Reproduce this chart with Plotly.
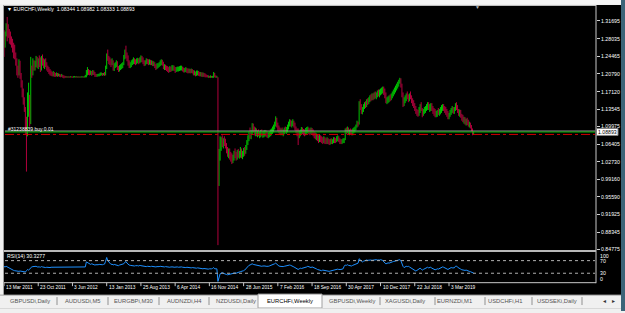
import pandas as pd
import plotly.graph_objects as go

# ---------------- DATA ----------------
symbol_title = "\u25bc EURCHFi,Weekly  1.08344 1.08982 1.08333 1.08893"
first_open = 1.292

close = [
 1.272,1.290,1.305,1.300,1.288,1.285,1.275,1.270,1.262,1.255,
 1.245,1.232,1.212,1.208,1.230,1.205,1.185,1.168,1.155,1.135,
 1.095,1.090,1.140,1.160,1.115,1.215,1.212,1.228,1.222,1.228,
 1.238,1.225,1.232,1.230,1.218,1.240,1.235,1.232,1.235,1.228,
 1.220,1.218,1.212,1.210,1.208,1.206,1.209,1.206,1.205,1.208,
 1.206,1.207,1.205,1.204,1.205,1.203,1.202,1.2012,1.2015,1.2010,
 1.2013,1.2011,1.2016,1.2012,1.2010,1.2014,1.2018,1.2012,1.2015,1.2011,
 1.2013,1.2010,1.2012,1.2015,1.2011,1.2014,1.2030,1.210,1.214,1.212,
 1.210,1.212,1.209,1.213,1.210,1.205,1.204,1.205,1.205,1.206,
 1.208,1.208,1.207,1.208,1.207,1.220,1.245,1.240,1.238,1.233,
 1.230,1.234,1.218,1.225,1.228,1.232,1.220,1.215,1.220,1.224,
 1.225,1.228,1.242,1.254,1.245,1.238,1.230,1.225,1.228,1.232,
 1.234,1.238,1.235,1.232,1.236,1.237,1.235,1.238,1.242,1.240,
 1.232,1.230,1.232,1.236,1.235,1.232,1.234,1.232,1.232,1.230,
 1.230,1.225,1.222,1.226,1.226,1.228,1.232,1.234,1.232,1.222,
 1.224,1.222,1.220,1.218,1.215,1.219,1.218,1.221,1.222,1.220,
 1.216,1.218,1.219,1.219,1.220,1.220,1.221,1.218,1.216,1.216,
 1.218,1.215,1.214,1.215,1.214,1.215,1.214,1.210,1.210,1.206,
 1.211,1.211,1.209,1.207,1.208,1.206,1.207,1.206,1.205,1.203,
 1.202,1.202,1.201,1.202,1.201,1.201,1.208,1.203,1.201,1.201,
 1.024,1.040,1.055,1.070,1.065,1.072,1.068,1.060,1.050,1.045,
 1.048,1.038,1.035,1.030,1.038,1.045,1.040,1.038,1.046,1.042,
 1.044,1.050,1.040,1.045,1.050,1.048,1.058,1.068,1.078,1.086,
 1.082,1.088,1.102,1.094,1.090,1.092,1.085,1.088,1.084,1.086,
 1.088,1.083,1.084,1.086,1.087,1.085,1.082,1.084,1.086,1.088,
 1.092,1.095,1.100,1.104,1.115,1.106,1.096,1.092,1.090,1.092,
 1.088,1.090,1.094,1.092,1.094,1.100,1.106,1.110,1.106,1.108,
 1.110,1.104,1.096,1.092,1.086,1.080,1.086,1.092,1.094,1.090,
 1.088,1.086,1.092,1.094,1.096,1.090,1.088,1.094,1.090,1.085,
 1.082,1.078,1.080,1.076,1.072,1.078,1.074,1.072,1.070,1.074,
 1.070,1.068,1.072,1.068,1.066,1.070,1.068,1.070,1.074,1.072,
 1.070,1.076,1.078,1.074,1.070,1.068,1.070,1.072,1.072,1.092,
 1.090,1.096,1.088,1.090,1.088,1.086,1.092,1.094,1.096,1.100,
 1.106,1.104,1.146,1.140,1.132,1.134,1.142,1.146,1.144,1.152,
 1.150,1.156,1.160,1.158,1.164,1.162,1.166,1.164,1.168,1.170,
 1.168,1.172,1.174,1.176,1.178,1.170,1.162,1.152,1.155,1.158,
 1.160,1.158,1.164,1.168,1.172,1.176,1.180,1.184,1.188,1.192,
 1.196,1.184,1.165,1.148,1.155,1.160,1.164,1.160,1.158,1.164,
 1.160,1.152,1.148,1.142,1.136,1.130,1.128,1.126,1.134,1.140,
 1.136,1.126,1.132,1.136,1.138,1.142,1.146,1.140,1.142,1.144,
 1.138,1.132,1.128,1.124,1.126,1.130,1.128,1.132,1.136,1.140,
 1.142,1.138,1.134,1.130,1.126,1.120,1.124,1.130,1.134,1.138,
 1.132,1.136,1.144,1.140,1.132,1.128,1.130,1.122,1.118,1.114,
 1.116,1.110,1.112,1.108,1.104,1.106,1.100,1.094,1.0834,1.08893,
]

high = [
 1.298,1.295,1.312,1.325,1.310,1.300,1.295,1.285,1.280,1.272,
 1.268,1.252,1.240,1.225,1.238,1.235,1.210,1.195,1.178,1.160,
 1.140,1.120,1.170,1.190,1.165,1.243,1.225,1.240,1.236,1.235,
 1.245,1.243,1.240,1.246,1.242,1.245,1.248,1.240,1.238,1.240,
 1.232,1.225,1.222,1.218,1.215,1.212,1.214,1.212,1.210,1.211,
 1.210,1.209,1.208,1.207,1.208,1.206,1.205,1.204,1.2035,1.2030,
 1.2030,1.2028,1.2035,1.2030,1.2026,1.2032,1.2036,1.2030,1.2033,1.2028,
 1.2030,1.2026,1.2030,1.2034,1.2028,1.2035,1.2060,1.216,1.222,1.218,
 1.216,1.215,1.214,1.216,1.215,1.212,1.208,1.208,1.208,1.209,
 1.211,1.211,1.210,1.210,1.212,1.225,1.250,1.258,1.245,1.242,
 1.238,1.240,1.236,1.230,1.232,1.236,1.234,1.224,1.226,1.228,
 1.230,1.232,1.247,1.258,1.266,1.252,1.246,1.236,1.232,1.236,
 1.238,1.242,1.240,1.238,1.240,1.241,1.240,1.242,1.246,1.245,
 1.242,1.236,1.236,1.240,1.239,1.238,1.238,1.237,1.236,1.235,
 1.234,1.232,1.228,1.230,1.230,1.232,1.236,1.238,1.237,1.233,
 1.228,1.227,1.225,1.224,1.222,1.224,1.223,1.226,1.226,1.225,
 1.222,1.222,1.223,1.223,1.224,1.225,1.225,1.223,1.221,1.220,
 1.222,1.220,1.219,1.219,1.218,1.219,1.218,1.216,1.215,1.213,
 1.215,1.215,1.214,1.212,1.212,1.211,1.211,1.210,1.209,1.207,
 1.206,1.205,1.204,1.205,1.204,1.204,1.212,1.210,1.205,1.204,
 1.2012,1.054,1.080,1.078,1.082,1.076,1.080,1.075,1.066,1.058,
 1.055,1.055,1.048,1.045,1.042,1.050,1.055,1.048,1.052,1.054,
 1.050,1.058,1.055,1.050,1.056,1.058,1.062,1.072,1.082,1.090,
 1.098,1.092,1.107,1.106,1.100,1.098,1.096,1.092,1.094,1.090,
 1.093,1.094,1.090,1.092,1.093,1.092,1.090,1.088,1.090,1.094,
 1.096,1.100,1.104,1.110,1.121,1.118,1.108,1.102,1.098,1.096,
 1.098,1.094,1.098,1.100,1.099,1.104,1.110,1.115,1.114,1.112,
 1.115,1.112,1.108,1.100,1.096,1.096,1.092,1.094,1.099,1.098,
 1.095,1.094,1.097,1.099,1.100,1.098,1.096,1.098,1.097,1.094,
 1.090,1.088,1.086,1.084,1.082,1.084,1.082,1.080,1.078,1.080,
 1.078,1.076,1.078,1.076,1.074,1.075,1.076,1.074,1.078,1.078,
 1.076,1.080,1.082,1.080,1.076,1.074,1.074,1.076,1.076,1.096,
 1.098,1.100,1.098,1.094,1.096,1.094,1.096,1.098,1.100,1.104,
 1.112,1.110,1.152,1.156,1.146,1.140,1.146,1.150,1.152,1.156,
 1.158,1.160,1.164,1.166,1.168,1.168,1.170,1.172,1.170,1.174,
 1.176,1.176,1.178,1.180,1.182,1.182,1.178,1.170,1.160,1.162,
 1.164,1.166,1.168,1.172,1.176,1.180,1.184,1.188,1.192,1.196,
 1.200,1.199,1.188,1.170,1.160,1.164,1.168,1.172,1.166,1.168,
 1.172,1.164,1.158,1.154,1.148,1.142,1.136,1.134,1.140,1.146,
 1.150,1.138,1.136,1.140,1.142,1.146,1.150,1.150,1.146,1.148,
 1.148,1.142,1.138,1.136,1.132,1.134,1.138,1.136,1.140,1.144,
 1.146,1.146,1.142,1.140,1.136,1.132,1.128,1.134,1.138,1.142,
 1.140,1.140,1.148,1.150,1.144,1.136,1.135,1.134,1.126,1.124,
 1.120,1.119,1.116,1.118,1.114,1.110,1.108,1.103,1.096,1.08982,
]

low = [
 1.243,1.262,1.285,1.275,1.282,1.270,1.268,1.262,1.252,1.240,
 1.238,1.225,1.205,1.200,1.205,1.198,1.180,1.160,1.145,1.130,
 1.085,1.0075,1.080,1.120,1.100,1.105,1.200,1.205,1.215,1.215,
 1.222,1.220,1.218,1.222,1.212,1.215,1.225,1.220,1.218,1.222,
 1.215,1.212,1.208,1.205,1.204,1.203,1.203,1.202,1.202,1.203,
 1.202,1.203,1.202,1.201,1.202,1.200,1.199,1.2000,1.2004,1.2004,
 1.2005,1.2004,1.2006,1.2005,1.2004,1.2005,1.2007,1.2005,1.2006,1.2004,
 1.2005,1.2004,1.2005,1.2006,1.2004,1.2005,1.2008,1.201,1.205,1.206,
 1.205,1.206,1.204,1.206,1.206,1.202,1.202,1.202,1.203,1.203,
 1.204,1.205,1.204,1.205,1.204,1.205,1.218,1.235,1.228,1.226,
 1.222,1.226,1.215,1.214,1.220,1.222,1.216,1.212,1.213,1.216,
 1.218,1.220,1.226,1.238,1.240,1.234,1.225,1.220,1.220,1.222,
 1.226,1.228,1.228,1.226,1.228,1.230,1.228,1.230,1.232,1.232,
 1.228,1.224,1.225,1.228,1.228,1.226,1.227,1.226,1.226,1.224,
 1.224,1.220,1.216,1.218,1.220,1.222,1.224,1.226,1.225,1.218,
 1.216,1.216,1.214,1.212,1.210,1.212,1.212,1.214,1.215,1.214,
 1.210,1.212,1.213,1.213,1.214,1.215,1.215,1.213,1.211,1.211,
 1.212,1.210,1.209,1.210,1.209,1.210,1.209,1.205,1.205,1.203,
 1.204,1.205,1.204,1.203,1.203,1.202,1.202,1.202,1.201,1.201,
 1.201,1.200,1.200,1.200,1.200,1.200,1.200,1.201,1.200,1.200,
 0.8565,0.978,1.030,1.050,1.058,1.055,1.060,1.055,1.045,1.038,
 1.035,1.032,1.028,1.023,1.025,1.030,1.035,1.030,1.032,1.036,
 1.034,1.036,1.035,1.033,1.038,1.040,1.044,1.052,1.062,1.070,
 1.075,1.074,1.084,1.088,1.082,1.080,1.080,1.078,1.080,1.076,
 1.078,1.080,1.077,1.078,1.080,1.079,1.077,1.076,1.078,1.080,
 1.082,1.085,1.088,1.094,1.100,1.098,1.090,1.086,1.084,1.082,
 1.084,1.080,1.084,1.086,1.085,1.088,1.094,1.100,1.100,1.098,
 1.101,1.098,1.092,1.086,1.080,1.062,1.076,1.080,1.085,1.084,
 1.082,1.080,1.082,1.085,1.086,1.084,1.082,1.084,1.083,1.080,
 1.076,1.074,1.072,1.070,1.066,1.068,1.068,1.066,1.064,1.066,
 1.064,1.064,1.064,1.064,1.062,1.063,1.064,1.064,1.066,1.066,
 1.066,1.068,1.070,1.068,1.064,1.064,1.064,1.066,1.066,1.072,
 1.084,1.086,1.084,1.082,1.084,1.082,1.082,1.086,1.088,1.092,
 1.098,1.100,1.104,1.134,1.126,1.125,1.130,1.136,1.138,1.140,
 1.144,1.146,1.150,1.152,1.154,1.154,1.156,1.158,1.156,1.160,
 1.162,1.160,1.164,1.166,1.168,1.165,1.158,1.148,1.146,1.148,
 1.150,1.152,1.154,1.158,1.162,1.166,1.170,1.174,1.178,1.182,
 1.188,1.180,1.160,1.140,1.142,1.148,1.152,1.156,1.150,1.152,
 1.156,1.148,1.142,1.138,1.132,1.126,1.122,1.120,1.122,1.128,
 1.132,1.119,1.122,1.126,1.128,1.132,1.134,1.134,1.130,1.132,
 1.132,1.126,1.122,1.119,1.119,1.120,1.124,1.122,1.125,1.128,
 1.132,1.132,1.128,1.124,1.120,1.115,1.115,1.120,1.124,1.128,
 1.126,1.126,1.132,1.134,1.128,1.122,1.120,1.118,1.112,1.109,
 1.106,1.104,1.102,1.103,1.100,1.098,1.096,1.090,1.082,1.08333,
]

rsi = [
 51,50,52,50,47,45,44,42,40,39,38,37,36,35,36,37,36,35,34,35,
 34,38,42,40,44,48,50,51,52,51,52,50,51,50,49,51,50,49,49,48,
 49,48,49,48,49,49,48,49,49,48,49,49,48,49,48,49,48,48,49,48,
 49,48,49,48,48,49,48,49,48,49,48,49,48,49,48,49,50,66,64,60,
 59,58,60,58,57,56,57,56,57,58,57,58,57,58,59,68,80,70,65,60,
 58,59,56,58,57,58,55,54,56,57,58,59,60,65,67,62,58,56,55,54,
 55,54,53,54,55,54,53,55,54,53,52,53,52,51,52,51,52,51,52,51,
 50,51,50,51,50,51,52,51,50,49,50,51,50,49,50,49,50,51,50,49,
 50,49,50,49,50,49,50,49,48,49,48,49,48,47,48,47,48,47,46,47,
 46,47,46,45,46,45,44,45,44,43,44,43,44,43,44,45,48,44,43,44,
 4,22,28,30,32,30,28,27,26,25,26,25,27,28,29,30,31,30,32,33,
 34,35,36,35,38,40,44,48,52,55,56,58,60,58,57,56,55,54,53,54,
 53,52,53,54,53,52,51,52,53,54,55,56,58,60,62,58,55,53,52,51,
 52,51,52,53,52,54,55,56,55,54,52,50,48,46,44,42,44,46,45,46,
 47,46,48,50,52,51,49,48,50,49,47,45,44,42,41,40,39,38,40,39,
 38,37,38,37,36,37,38,37,38,40,41,42,43,42,41,42,43,44,52,56,
 55,57,55,54,55,53,55,56,57,59,61,62,76,73,68,66,68,70,71,72,
 71,72,73,72,71,72,73,72,73,72,71,72,73,72,71,66,62,60,61,63,
 62,64,65,66,67,68,69,70,71,72,73,70,60,52,48,50,52,51,52,50,
 48,45,42,40,38,37,39,42,45,46,43,40,42,44,46,48,49,47,48,49,
 46,44,42,41,42,44,43,45,47,49,50,49,47,45,43,42,44,46,48,47,
 48,47,52,53,49,46,45,43,41,40,41,39,40,38,37,36,35,33,31,30.33,
]

price_ticks = [1.31695, 1.28035, 1.24465, 1.20790, 1.17120, 1.13545, 1.09975,
               1.06405, 1.02730, 0.99160, 0.95590, 0.91925, 0.88345, 0.84775]
price_tick_text = ["1.31695", "1.28035", "1.24465", "1.20790", "1.17120", "1.13545",
                   "1.09975", "1.06405", "1.02730", "0.99160", "0.95590", "0.91925",
                   "0.88345", "0.84775"]
date_ticks = ["2011-03-13", "2011-10-23", "2012-06-03", "2013-01-13", "2013-08-25",
              "2014-04-06", "2014-11-16", "2015-06-28", "2016-02-07", "2016-09-18",
              "2017-04-30", "2017-12-10", "2018-07-22", "2019-03-03"]
date_tick_text = ["13 Mar 2011", "23 Oct 2011", "3 Jun 2012", "13 Jan 2013", "25 Aug 2013",
                  "6 Apr 2014", "16 Nov 2014", "28 Jun 2015", "7 Feb 2016", "18 Sep 2016",
                  "30 Apr 2017", "10 Dec 2017", "22 Jul 2018", "3 Mar 2019"]
rsi_levels = [70, 30]
rsi_label = "RSI(14) 30.3277"
bid_price = 1.08893
order_line_price = 1.0887
bid_line_price = 1.0907
sl_line_price = 1.0838
order_label = "#31238839 buy 0.01"
tabs = ["GBPUSDi,Daily", "AUDUSDi,M5", "EURGBPi,M30", "AUDNZDi,H4", "NZDUSDi,Daily",
        "EURCHFi,Weekly", "GBPUSDi,Weekly", "XAGUSDi,Daily", "EURNZDi,M1",
        "USDCHFi,H1", "USDSEKi,Daily"]
active_tab = "EURCHFi,Weekly"

# ---------------- LAYOUT HELPERS ----------------
W, H = 625, 313
FONT = "Liberation Sans"
def px(x): return x / W
def py(y): return 1 - y / H

n = min(len(close), len(high), len(low))
dates = pd.date_range("2011-03-13", periods=n, freq="7D")
opens = [first_open] + close[:n - 1]

up_x, up_y, dn_x, dn_y = [], [], [], []
for i in range(n):
    o, c = opens[i], close[i]
    lo = min(low[i], o, c)
    hi = max(high[i], o, c)
    if c >= o:
        up_x += [dates[i], dates[i], None]; up_y += [lo, hi, None]
    else:
        dn_x += [dates[i], dates[i], None]; dn_y += [lo, hi, None]

fig = go.Figure()
fig.add_trace(go.Scatter(x=up_x, y=up_y, mode="lines", line=dict(color="#00c400", width=1),
                         hoverinfo="skip", showlegend=False, xaxis="x", yaxis="y"))
fig.add_trace(go.Scatter(x=dn_x, y=dn_y, mode="lines", line=dict(color="#b0003c", width=1),
                         hoverinfo="skip", showlegend=False, xaxis="x", yaxis="y"))
fig.add_trace(go.Scatter(x=dates[:len(rsi)], y=rsi[:n], mode="lines",
                         line=dict(color="#1e90ff", width=1),
                         hoverinfo="skip", showlegend=False, xaxis="x", yaxis="y2"))

# x mapping: bar of 13 Mar 2011 at px 4, 1.0697 px per week
start = pd.Timestamp("2011-03-13")
ppw = 1.0697
x_left, x_right = 4, 596
xr0 = start + pd.Timedelta(days=(x_left - 4) * 7 / ppw)
xr1 = start + pd.Timedelta(days=(x_right - 4) * 7 / ppw)

# y mapping: 1.31695 at px 21, 0.84775 at px 251
ppp = (1.31695 - 0.84775) / (251 - 21)
main_top, main_bot = 5, 252
yr1 = 1.31695 + (21 - main_top) * ppp
yr0 = 0.84775 - (main_bot - 251) * ppp
rsi_top, rsi_bot = 252.8, 284.5

fig.update_layout(
    width=W, height=H, margin=dict(l=0, r=0, t=0, b=0),
    paper_bgcolor="#f0f0f0", plot_bgcolor="rgba(0,0,0,0)",
    font=dict(family=FONT, size=5, color="white"),
    xaxis=dict(domain=[px(x_left), px(x_right)], range=[xr0, xr1], type="date",
               showgrid=False, zeroline=False, showticklabels=False, ticks="",
               showline=False, anchor="y2", fixedrange=True),
    yaxis=dict(domain=[py(main_bot), py(main_top)], range=[yr0, yr1], side="right",
               anchor="x", showgrid=False, zeroline=False, tickmode="array",
               tickvals=price_ticks, ticktext=price_tick_text, ticks="outside",
               ticklen=3, tickcolor="#d0d0d0", tickwidth=1,
               tickfont=dict(family=FONT, size=5.2, color="white"), showline=False),
    yaxis2=dict(domain=[py(rsi_bot), py(rsi_top)], range=[0, 100], side="right",
                anchor="x", showgrid=False, zeroline=False, showticklabels=False,
                ticks="", showline=False),
    showlegend=False,
)

shapes = []
# black chart window
shapes.append(dict(type="rect", xref="paper", yref="paper", x0=px(4), x1=px(621),
                   y0=py(297), y1=py(5), fillcolor="black", line=dict(width=0), layer="below"))
gray = "#c8c8c8"
def hline(y, x0, x1, color=gray, width=1, dash="solid"):
    shapes.append(dict(type="line", xref="paper", yref="paper", x0=px(x0), x1=px(x1),
                       y0=py(y), y1=py(y), line=dict(color=color, width=width, dash=dash)))
def vline(x, y0, y1, color=gray, width=1):
    shapes.append(dict(type="line", xref="paper", yref="paper", x0=px(x), x1=px(x),
                       y0=py(y0), y1=py(y1), line=dict(color=color, width=width)))
hline(5.5, 4, 596)
vline(596, 5, 285)
vline(3.5, 5, 297, color="#a0a0a0")
hline(252.5, 4, 596, color="#b8b8b8", width=2)
hline(284.5, 4, 596)
for lv in rsi_levels:
    shapes.append(dict(type="line", xref="paper", yref="y2", x0=px(5), x1=px(595),
                       y0=lv, y1=lv, line=dict(color="#b0b0b0", width=1, dash="dot")))
for pr, col, dash in [(bid_line_price, "#a8a8a8", "solid"),
                      (order_line_price, "#00b000", "solid"),
                      (sl_line_price, "#d00000", "dashdot")]:
    shapes.append(dict(type="line", xref="paper", yref="y", x0=px(5), x1=px(595),
                       y0=pr, y1=pr, line=dict(color=col, width=1, dash=dash)))
for d in date_ticks:
    shapes.append(dict(type="line", xref="x", yref="paper", x0=d, x1=d,
                       y0=py(288), y1=py(284.5), line=dict(color="#c8c8c8", width=1)))
shapes.append(dict(type="rect", xref="paper", yref="y", x0=px(596.5), x1=px(618),
                   y0=bid_price - 3.5 * ppp, y1=bid_price + 3.5 * ppp,
                   fillcolor="white", line=dict(color="#808080", width=1)))
shapes.append(dict(type="rect", xref="paper", yref="paper", x0=0, x1=1, y0=py(313), y1=py(297),
                   fillcolor="#f0f0f0", line=dict(width=0), layer="below"))
hline(297, 0, 622, color="#a0a0a0")
shapes.append(dict(type="rect", xref="paper", yref="paper", x0=px(258), x1=px(322),
                   y0=py(310), y1=py(296), fillcolor="white", line=dict(color="#a0a0a0", width=1)))
hline(310.5, 0, 625, color="#d8d8d8")
shapes.append(dict(type="rect", xref="paper", yref="paper", x0=px(621), x1=1, y0=0, y1=1,
                   fillcolor="#3c6478", line=dict(width=0)))
shapes.append(dict(type="rect", xref="paper", yref="paper", x0=0, x1=px(621), y0=py(4), y1=1,
                   fillcolor="#f4f4f4", line=dict(width=0)))
tab_centers = [30, 82, 133, 184, 236, 290, 352, 405, 454, 505, 557]
seps = [57, 108, 159, 209, 380, 435, 485, 532, 582]
for sx in seps:
    vline(sx, 299, 307, color="#909090")
fig.update_layout(shapes=shapes)

ann = []
def text(x, y, s, size=5, color="white", anchor="left", xref="paper"):
    ann.append(dict(x=x if xref != "paper" else px(x), y=py(y), xref=xref, yref="paper",
                    text=s, showarrow=False, xanchor=anchor, yanchor="middle",
                    font=dict(family=FONT, size=size, color=color)))

text(5, 9.5, symbol_title, size=5.1)
text(477.5, 7, "\u25bc", size=5, color="#b0b0b0", anchor="center")
text(6, 129.5, order_label, size=5)
text(4.5, 258, rsi_label, size=5.2)
for lbl, yy in [("100", 257.5), ("70", 262.5), ("30", 275), ("0", 280.5)]:
    text(598, yy, lbl, size=5.2)
for d, s in zip(date_ticks, date_tick_text):
    text(d, 289.5, s, size=4.8, xref="x")
ann.append(dict(x=px(607.3), y=bid_price, xref="paper", yref="y", text="1.08893",
                showarrow=False, xanchor="center", yanchor="middle",
                font=dict(family=FONT, size=5.2, color="black")))
for t, cx in zip(tabs, tab_centers):
    text(cx, 303, t, size=5.8, color="black" if t == active_tab else "#555555", anchor="center")
text(604, 303, "\u25c2", size=6, color="#333333", anchor="center")
text(613, 303, "\u25b8", size=6, color="#333333", anchor="center")
fig.update_layout(annotations=ann)

fig.write_html("out.html")
